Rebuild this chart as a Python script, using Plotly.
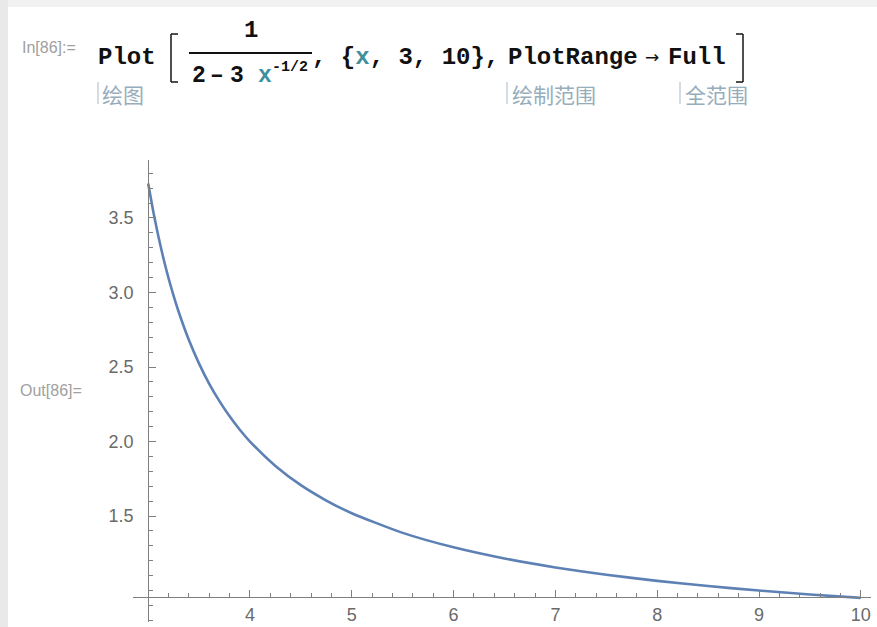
import plotly.graph_objects as go

W, H = 877, 627

# values
x_vals = [3.0, 3.05, 3.1, 3.15, 3.2, 3.25, 3.3, 3.4, 3.5, 3.6, 3.7, 3.8, 3.9,
          4.0, 4.25, 4.5, 4.75, 5.0, 5.5, 6.0, 6.5, 7.0, 7.5, 8.0, 8.5, 9.0, 9.5, 10.0]
y_vals = [3.732, 3.544, 3.377, 3.229, 3.096, 2.977, 2.869, 2.681, 2.523, 2.387, 2.271, 2.169, 2.079,
          2.000, 1.836, 1.707, 1.604, 1.519, 1.387, 1.290, 1.215, 1.155, 1.106, 1.065, 1.030, 1.000, 0.974, 0.951]

x_ticks = [4, 5, 6, 7, 8, 9, 10]
y_ticks = [1.5, 2.0, 2.5, 3.0, 3.5]
y_tick_text = ["1.5", "2.0", "2.5", "3.0", "3.5"]

x_range = [2.851, 10.10]
y_range = [0.789, 3.889]
x_origin, y_origin = 3.0, 0.956

# plot box in pixels
L, R, T, B = 133, 871, 160, 622

def px(x):
    return x / W

def py(y):
    return 1 - y / H

line_color = "#5E81B5"
axis_color = "#7f7f7f"
label_color = "#6a6a6a"

fig = go.Figure()
fig.add_trace(go.Scatter(x=x_vals, y=y_vals, mode="lines",
                         line=dict(color=line_color, width=2.6, shape="spline", smoothing=0.6),
                         hoverinfo="skip"))

xpos = (y_origin - y_range[0]) / (y_range[1] - y_range[0])
ypos = (x_origin - x_range[0]) / (x_range[1] - x_range[0])
xdom = [px(L), px(R)]
ydom = [py(B), py(T)]

tick_font = dict(family="Liberation Sans", size=18, color=label_color)

fig.update_layout(
    width=W, height=H,
    margin=dict(l=0, r=0, t=0, b=0),
    paper_bgcolor="white", plot_bgcolor="white",
    showlegend=False,
    xaxis=dict(domain=xdom, range=x_range, anchor="free",
               position=ydom[0] + xpos * (ydom[1] - ydom[0]),
               showgrid=False, zeroline=False, showline=True, linecolor=axis_color, linewidth=1.2,
               tickvals=x_ticks, ticks="inside", ticklen=7, tickcolor=axis_color, tickwidth=1.2,
               ticklabelstandoff=1, tickfont=tick_font,
               minor=dict(dtick=0.2, tick0=0, ticks="inside", ticklen=4, tickcolor=axis_color, tickwidth=1),
               fixedrange=True),
    yaxis=dict(domain=ydom, range=y_range, anchor="free",
               position=xdom[0] + ypos * (xdom[1] - xdom[0]),
               showgrid=False, zeroline=False, showline=True, linecolor=axis_color, linewidth=1.2,
               tickvals=y_ticks, ticktext=y_tick_text, ticks="inside", ticklen=7,
               tickcolor=axis_color, tickwidth=1.2, ticklabelstandoff=11, tickfont=tick_font,
               minor=dict(dtick=0.1, tick0=0, ticks="inside", ticklen=4, tickcolor=axis_color, tickwidth=1),
               fixedrange=True),
)

shapes = []
# notebook background strips
shapes.append(dict(type="rect", xref="paper", yref="paper", x0=0, x1=1, y0=py(7), y1=1,
                   fillcolor="#f2f2f2", line=dict(width=0), layer="below"))
shapes.append(dict(type="rect", xref="paper", yref="paper", x0=0, x1=px(8), y0=0, y1=1,
                   fillcolor="#e9e9e9", line=dict(width=0), layer="below"))
# fraction bar
shapes.append(dict(type="line", xref="paper", yref="paper", x0=px(189), x1=px(312), y0=py(53), y1=py(53),
                   line=dict(color="#111111", width=2)))
# brackets
def bracket(xl, open_=True):
    d = 7 if open_ else -7
    return [dict(type="line", xref="paper", yref="paper", x0=px(xl), x1=px(xl), y0=py(34), y1=py(82),
                 line=dict(color="#222222", width=1.6)),
            dict(type="line", xref="paper", yref="paper", x0=px(xl), x1=px(xl + d), y0=py(34), y1=py(34),
                 line=dict(color="#222222", width=1.6)),
            dict(type="line", xref="paper", yref="paper", x0=px(xl), x1=px(xl + d), y0=py(82), y1=py(82),
                 line=dict(color="#222222", width=1.6))]
shapes += bracket(171, True)
shapes += bracket(743, False)
# little markers before the annotation words
for xm in [98, 507, 680]:
    shapes.append(dict(type="line", xref="paper", yref="paper", x0=px(xm), x1=px(xm), y0=py(82), y1=py(104),
                       line=dict(color="#a9bac6", width=1)))
fig.update_layout(shapes=shapes)

code_font = dict(family="Liberation Mono", size=24, color="#111111")
den_font = dict(family="Liberation Mono", size=23, color="#111111")
sup_font = dict(family="Liberation Mono", size=15, color="#111111")
gray_small = dict(family="Liberation Sans", size=16, color="#a0a0a0")
note_font = dict(family="Noto Sans CJK SC", size=21, color="#97adbb")
teal = "#3f8f9f"

ann = [
    dict(x=px(20), y=py(48), text="In[86]:=", font=gray_small, xanchor="left", yanchor="middle"),
    dict(x=px(18), y=py(390), text="Out[86]=", font=gray_small, xanchor="left", yanchor="middle"),
    dict(x=px(96), y=py(57), text="<b>Plot</b>", font=code_font, xanchor="left", yanchor="middle"),
    dict(x=px(251), y=py(30), text="<b>1</b>", font=code_font, xanchor="center", yanchor="middle"),
    dict(x=px(190), y=py(76), text="<b>2</b>", font=den_font, xanchor="left", yanchor="middle"),
    dict(x=px(208), y=py(76), text="<b>–</b>", font=den_font, xanchor="left", yanchor="middle"),
    dict(x=px(228), y=py(76), text="<b>3</b>", font=den_font, xanchor="left", yanchor="middle"),
    dict(x=px(256), y=py(76), text="<b>x</b>", font=dict(family="Liberation Mono", size=23, color=teal),
         xanchor="left", yanchor="middle"),
    dict(x=px(270), y=py(67), text="<b>-1/2</b>", font=sup_font, xanchor="left", yanchor="middle"),
    dict(x=px(310), y=py(57),
         text="<b>, {<span style='color:%s'>x</span>, 3, 10},</b>" % teal,
         font=code_font, xanchor="left", yanchor="middle"),
    dict(x=px(506), y=py(57), text="<b>PlotRange</b>", font=code_font, xanchor="left", yanchor="middle"),
    dict(x=px(643), y=py(57), text="→", font=dict(family="DejaVu Sans", size=17, color="#111111"),
         xanchor="left", yanchor="middle"),
    dict(x=px(666), y=py(57), text="<b>Full</b>", font=code_font, xanchor="left", yanchor="middle"),
    dict(x=px(100), y=py(94), text="绘图", font=note_font, xanchor="left", yanchor="middle"),
    dict(x=px(510), y=py(94), text="绘制范围", font=note_font, xanchor="left", yanchor="middle"),
    dict(x=px(683), y=py(94), text="全范围", font=note_font, xanchor="left", yanchor="middle"),
]
for a in ann:
    a.update(xref="paper", yref="paper", showarrow=False)
fig.update_layout(annotations=ann)

fig.write_html("out.html")
